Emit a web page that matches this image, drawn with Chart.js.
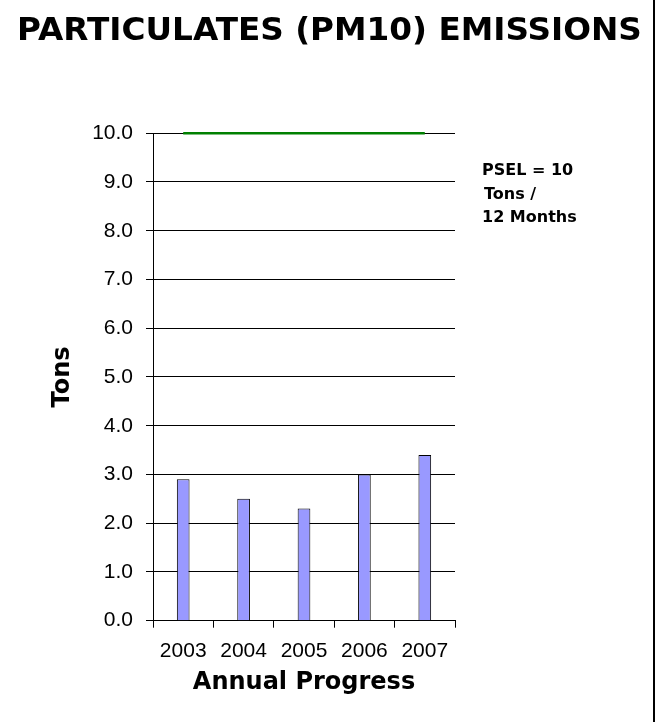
<!DOCTYPE html>
<html>
<head>
<meta charset="utf-8">
<script src="https://cdn.jsdelivr.net/npm/chart.js@4/dist/chart.umd.min.js"></script>
<style>
  html, body { margin: 0; padding: 0; background: #fff; }
  #wrap { width: 668px; height: 725px; position: relative; }
</style>
</head>
<body>
<div id="wrap"><canvas id="c" width="668" height="725"></canvas></div>
<script>
const categories = ['2003', '2004', '2005', '2006', '2007'];
const emissions = [2.9, 2.5, 2.3, 3.0, 3.4];
const pselLimit = [10, 10, 10, 10, 10];
const yMin = 0, yMax = 10, yStep = 1;
const chartTitle = 'PARTICULATES (PM10) EMISSIONS';
const yTitle = 'Tons';
const xTitle = 'Annual Progress';
const noteLines = ['PSEL = 10', 'Tons /', '12 Months'];

const BOLD = '"DejaVu Sans", Verdana, sans-serif';
const REG = '"Liberation Sans", Arial, sans-serif';

const extras = {
  id: 'extras',
  afterDraw(chart) {
    const ctx = chart.ctx;
    ctx.save();
    // right frame line
    ctx.strokeStyle = '#000';
    ctx.lineWidth = 2;
    ctx.beginPath();
    ctx.moveTo(654, 0);
    ctx.lineTo(654, 722);
    ctx.stroke();
    // PSEL note
    ctx.fillStyle = '#000';
    ctx.font = 'bold 16px ' + BOLD;
    ctx.textBaseline = 'middle';
    ctx.textAlign = 'left';
    ctx.fillText(noteLines[0], 482, 171);
    ctx.fillText(noteLines[1], 484, 195);
    ctx.fillText(noteLines[2], 482, 218);
    ctx.restore();
  }
};

new Chart(document.getElementById('c'), {
  type: 'bar',
  data: {
    labels: categories,
    datasets: [
      {
        type: 'line',
        data: pselLimit,
        borderColor: '#008000',
        borderWidth: 2.5,
        pointRadius: 0,
        fill: false,
        clip: false,
        yAxisID: 'y'
      },
      {
        type: 'bar',
        data: emissions,
        backgroundColor: '#9999FF',
        borderColor: '#000000',
        borderWidth: 1,
        barPercentage: 0.21,
        categoryPercentage: 1.0,
        yAxisID: 'y'
      }
    ]
  },
  options: {
    responsive: false,
    animation: false,
    devicePixelRatio: 1,
    layout: { padding: { left: 0, right: 9, top: 0, bottom: 0 } },
    plugins: {
      legend: { display: false },
      tooltip: { enabled: false },
      title: {
        display: true,
        text: chartTitle,
        color: '#000',
        font: { family: BOLD, size: 32.7, weight: 'bold' },
        padding: { top: 12, bottom: 82 }
      }
    },
    scales: {
      x: {
        offset: true,
        grid: { display: true, offset: true, drawOnChartArea: false, drawTicks: true, tickLength: 7, color: '#000' },
        border: { display: true, color: '#000', width: 1 },
        ticks: { color: '#000', font: { family: REG, size: 21 }, padding: 11, maxRotation: 0 },
        title: { display: true, text: xTitle, color: '#000', font: { family: BOLD, size: 24, weight: 'bold' }, padding: { top: 0, bottom: 28 } },
        afterFit(scale) { scale.height = 104.3; }
      },
      y: {
        position: 'left',
        min: yMin,
        max: yMax,
        grid: { color: '#000', drawTicks: true, tickLength: 7, lineWidth: 1 },
        border: { display: true, color: '#000', width: 1 },
        ticks: {
          stepSize: yStep,
          color: '#000',
          font: { family: REG, size: 21 },
          padding: 13,
          callback: v => Number(v).toFixed(1)
        },
        title: { display: true, text: yTitle, color: '#000', font: { family: BOLD, size: 24, weight: 'bold' }, padding: { top: 48, bottom: 0 } },
        afterFit(scale) { scale.width = 153; }
      },
      y2: {
        position: 'right',
        display: true,
        grid: { display: false },
        border: { display: false },
        ticks: { display: false },
        afterFit(scale) { scale.width = 204; }
      }
    }
  },
  plugins: [extras]
});
</script>
</body>
</html>
